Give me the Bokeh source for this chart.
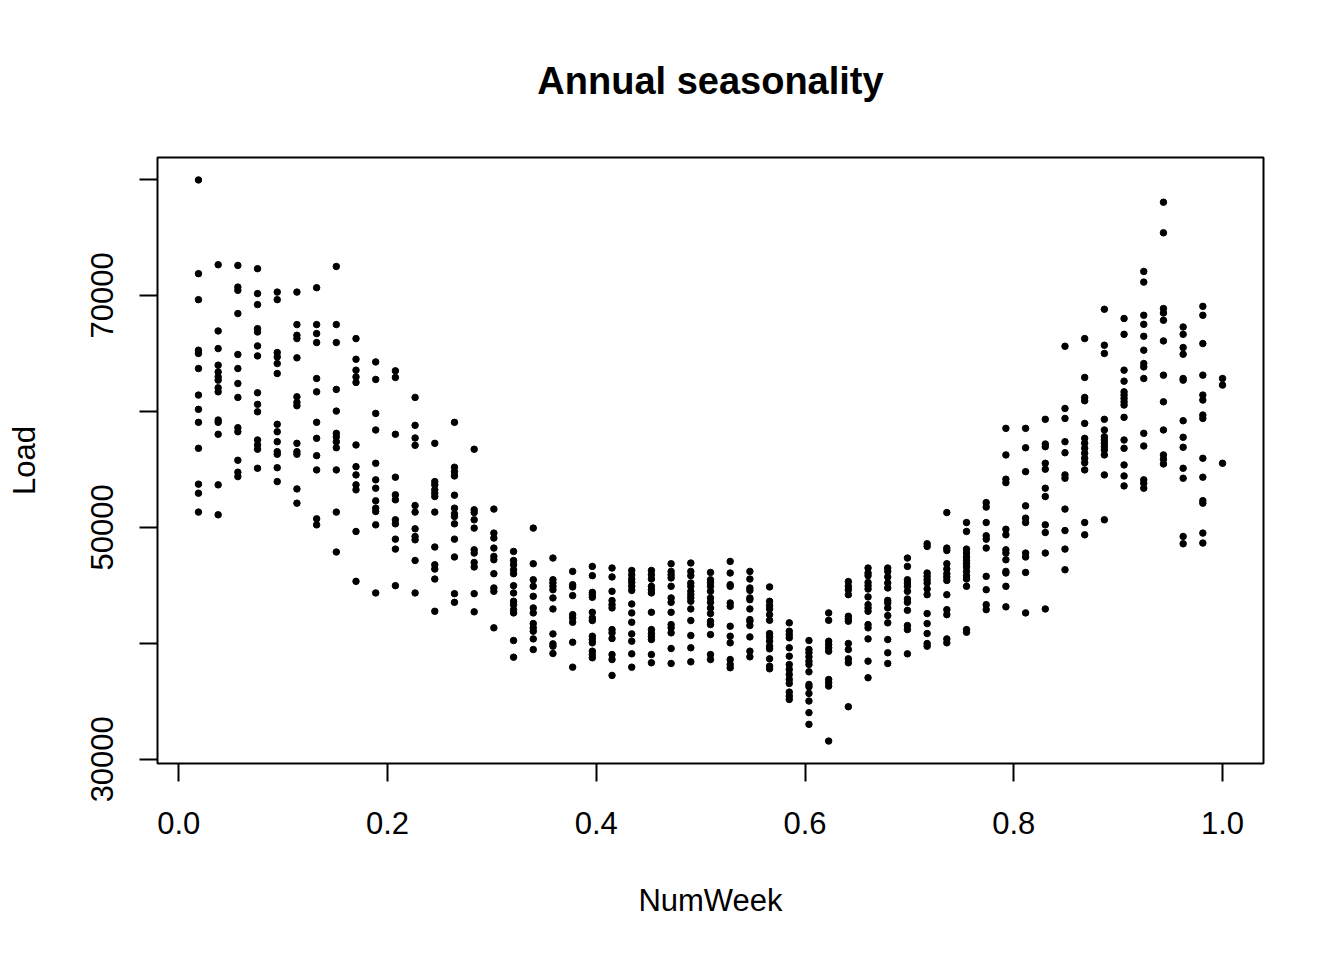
import math
from bokeh.plotting import figure
from bokeh.models import Range1d, FixedTicker, PrintfTickFormatter
from bokeh.embed import file_html
from bokeh.resources import INLINE

# load values per week (NumWeek = week / 53)
w01 = [79950, 71870, 69630, 65270, 64990, 63690, 61400, 60170, 59050, 56810, 53720, 52940, 51310]
w02 = [72640, 66930, 65410, 63980, 63400, 62970, 62690, 62030, 61680, 59250, 59050, 58020, 53660, 51080]
w03 = [72580, 70710, 70430, 68430, 64900, 63690, 62400, 61200, 58590, 58240, 55780, 54750, 54370]
w04 = [72300, 70150, 69200, 67130, 66840, 65640, 64780, 61600, 60600, 59960, 57530, 57100, 56730, 55090]
w05 = [70280, 69630, 65070, 64690, 64120, 63260, 58880, 58240, 57380, 56520, 56300, 55140, 53940]
w06 = [70280, 67480, 66560, 66270, 64610, 61250, 60770, 60480, 57240, 56520, 56300, 53310, 52080]
w07 = [70660, 67480, 66700, 65930, 62830, 61680, 59050, 57670, 56180, 54950, 50730, 50210]
w08 = [72490, 67480, 65930, 61890, 60020, 58100, 57810, 57380, 56860, 54950, 51310, 47870]
w09 = [66270, 64490, 63550, 62970, 62490, 57100, 55230, 54520, 53660, 53230, 49640, 45340]
w10 = [64260, 62750, 59820, 58390, 55520, 54090, 53370, 52280, 51650, 51360, 50210, 44340]
w11 = [63490, 62920, 58020, 54320, 52800, 52370, 50650, 50300, 48980, 48120, 44970]
w12 = [61200, 58790, 57700, 57070, 51880, 51310, 49870, 49210, 48920, 47140, 44340]
w13 = [57240, 53940, 53660, 53230, 52940, 52650, 51310, 48300, 46770, 46400, 45540, 42760]
w14 = [59050, 55180, 54800, 54430, 52770, 51650, 51160, 50930, 50300, 48980, 47440, 44280, 43530]
w15 = [56730, 51510, 51270, 50650, 49930, 48060, 47780, 46970, 46580, 44280, 42710]
w16 = [51570, 49500, 49070, 48210, 47490, 47200, 46000, 44770, 44480, 41330]
w17 = [47920, 47140, 46770, 46340, 46000, 44970, 44340, 43620, 43330, 42900, 42620, 40240, 38800]
w18 = [49930, 46860, 45480, 44910, 44050, 43050, 42620, 41700, 41330, 41040, 40380, 39460]
w19 = [47350, 45480, 45200, 44910, 44620, 43910, 42960, 40810, 39950, 39750, 39120]
w20 = [46200, 45050, 44860, 44110, 42470, 42190, 41810, 40090, 37940]
w21 = [46630, 45830, 44390, 44190, 43960, 42670, 42190, 41960, 40610, 40320, 40040, 39320, 39030, 38750]
w22 = [46490, 45720, 44480, 43680, 43330, 43050, 41180, 40900, 40410, 39030, 38600, 37230]
w23 = [46280, 45910, 45540, 45250, 44910, 44560, 43390, 42620, 41810, 40810, 40180, 39090, 37940]
w24 = [46280, 45910, 45540, 44910, 44620, 44340, 42670, 41180, 40840, 40610, 40320, 39030, 38320]
w25 = [46860, 46200, 45910, 45630, 44910, 43910, 43530, 42670, 41610, 41330, 40900, 39550, 38260]
w26 = [46920, 46200, 45830, 45200, 44910, 44480, 44190, 43910, 43620, 42960, 41960, 40670, 39610, 38400]
w27 = [46110, 45480, 45250, 44910, 44480, 43910, 43530, 43050, 42560, 41900, 41610, 40750, 39030, 38600]
w28 = [47060, 46060, 45050, 44910, 43480, 43190, 41470, 40610, 40040, 38600, 38170, 37890]
w29 = [46200, 45540, 44770, 44560, 43910, 43760, 42960, 42040, 41900, 41530, 40550, 39320, 38830]
w30 = [44860, 43620, 43250, 42960, 42470, 41980, 40840, 40550, 40180, 39750, 39520, 38660, 38030, 37800]
w31 = [41760, 41040, 40750, 40470, 39610, 38890, 38170, 37740, 37310, 36880, 36540, 35790, 35450, 35160]
w32 = [40240, 39460, 39180, 38830, 38460, 38170, 37540, 36450, 36250, 35680, 35020, 34020, 33010]
w33 = [42620, 41980, 40180, 39890, 39610, 39320, 36880, 36600, 36310, 31570]
w34 = [45320, 44910, 44620, 44190, 42330, 42100, 41900, 39980, 39460, 38660, 38320, 34530]
w35 = [46490, 46060, 45830, 45250, 44970, 44680, 44000, 43330, 43050, 42760, 41610, 41330, 40380, 38460, 37030]
w36 = [46490, 46200, 45720, 45200, 44770, 43700, 43480, 43050, 42390, 41760, 40320, 39180, 38260]
w37 = [47350, 46630, 45480, 45200, 44910, 44480, 43820, 43530, 42840, 41530, 41180, 39090]
w38 = [48580, 48350, 46060, 45770, 45480, 45200, 44680, 44190, 42560, 41700, 40840, 39980, 39750]
w39 = [51270, 48210, 48000, 46860, 46400, 46000, 45720, 45420, 44190, 42900, 42470, 40380, 40040]
w40 = [50410, 49640, 48120, 47780, 47440, 47140, 46860, 46580, 46200, 45830, 45540, 44910, 41180, 40950]
w41 = [52130, 51740, 50410, 49270, 48980, 48210, 45770, 44620, 43330, 42900]
w42 = [58530, 56240, 54150, 53850, 49830, 49350, 48060, 47780, 47200, 46200, 46060, 44910, 43140]
w43 = [58530, 56860, 54800, 51850, 50790, 50410, 47780, 47440, 46110, 42620]
w44 = [59310, 57180, 56950, 55520, 55010, 53370, 52650, 50210, 49550, 47780, 42960]
w45 = [65610, 60250, 59390, 57380, 56430, 54520, 54230, 51570, 49720, 48120, 46340]
w46 = [66270, 62920, 61200, 60910, 58960, 57670, 57240, 56810, 56380, 55950, 55570, 54950, 50410, 49350]
w47 = [68800, 65700, 64990, 59310, 58390, 57810, 57530, 57240, 56950, 56670, 56240, 54520, 50650]
w48 = [68000, 66640, 63550, 62600, 61680, 61400, 61110, 60820, 60540, 59480, 57530, 56810, 55380, 54430, 53570]
w49 = [72060, 71140, 68280, 67500, 66470, 65270, 64120, 63830, 62830, 58100, 57010, 54090, 53800, 53370]
w50 = [78030, 75390, 68860, 68480, 67850, 66070, 63120, 60820, 58390, 56240, 55870, 55460]
w51 = [67270, 66640, 65500, 64920, 62830, 62690, 59190, 57760, 56900, 55090, 54230, 49210, 48580]
w52 = [69050, 68280, 65840, 63120, 61400, 60970, 59680, 59390, 55950, 54320, 52300, 52080, 49500, 48640]
w53 = [62830, 62260, 55520]

weeks = [w01, w02, w03, w04, w05, w06, w07, w08, w09, w10, w11, w12, w13, w14, w15, w16, w17, w18,
         w19, w20, w21, w22, w23, w24, w25, w26, w27, w28, w29, w30, w31, w32, w33, w34, w35, w36,
         w37, w38, w39, w40, w41, w42, w43, w44, w45, w46, w47, w48, w49, w50, w51, w52, w53]

x_ticks = [0.0, 0.2, 0.4, 0.6, 0.8, 1.0]
y_ticks = [30000, 40000, 50000, 60000, 70000, 80000]
y_hidden = {40000: "", 60000: "", 80000: ""}

num_week = []
load = []
for i, wk in enumerate(weeks):
    for v in wk:
        num_week.append((i + 1) / len(weeks))
        load.append(v)

# R style 4% padding of the ranges
xpad = 0.04 * (max(num_week) - min(num_week))
ypad = 0.04 * (max(load) - min(load))

FONT = "Liberation Sans"

p = figure(width=1344, height=960, output_backend="svg", toolbar_location=None,
           title="Annual seasonality",
           x_range=Range1d(min(num_week) - xpad, max(num_week) + xpad),
           y_range=Range1d(min(load) - ypad, max(load) + ypad),
           min_border_left=157, min_border_right=81, min_border_top=157, min_border_bottom=197)

p.title.align = "center"
p.title.text_font = FONT
p.title.text_font_style = "bold"
p.title.text_font_size = "38px"
p.title.text_color = "black"
p.title.standoff = 112

p.outline_line_color = "black"
p.outline_line_width = 2
p.xgrid.grid_line_color = None
p.ygrid.grid_line_color = None
p.background_fill_color = "white"
p.border_fill_color = "white"

for ax in (p.xaxis[0], p.yaxis[0]):
    ax.axis_line_color = None
    ax.major_tick_in = 0
    ax.major_tick_out = 18
    ax.major_tick_line_width = 2
    ax.major_tick_line_color = "black"
    ax.minor_tick_line_color = None
    ax.major_label_text_font = FONT
    ax.major_label_text_font_size = "31px"
    ax.major_label_text_color = "black"
    ax.axis_label_text_font = FONT
    ax.axis_label_text_font_size = "31px"
    ax.axis_label_text_font_style = "normal"
    ax.axis_label_text_color = "black"

p.xaxis.ticker = FixedTicker(ticks=x_ticks)
p.xaxis.formatter = PrintfTickFormatter(format="%.1f")
p.xaxis.axis_label = "NumWeek"
p.xaxis.major_label_standoff = 30
p.xaxis.axis_label_standoff = 46

p.yaxis.ticker = FixedTicker(ticks=y_ticks)
p.yaxis.major_label_overrides = y_hidden
p.yaxis.major_label_orientation = "vertical"
p.yaxis.axis_label = "Load"
p.yaxis.major_label_standoff = 26
p.yaxis.axis_label_standoff = 47

p.scatter(num_week, load, size=6.5, color="black")

open("out.html", "w").write(file_html(p, INLINE))
